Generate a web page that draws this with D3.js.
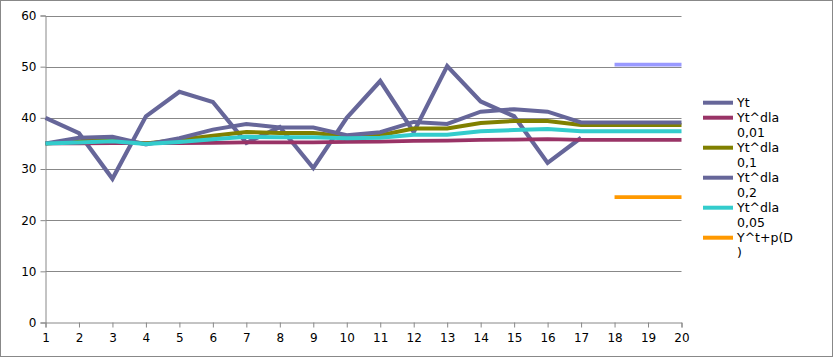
<!DOCTYPE html>
<html><head><meta charset="utf-8">
<script src="https://cdn.jsdelivr.net/npm/d3@7"></script>
<style>body{margin:0;background:#fff}svg{display:block;font-family:"DejaVu Sans",sans-serif}</style>
</head><body><svg id="c" width="833" height="357"></svg>
<script>
const periods = [1,2,3,4,5,6,7,8,9,10,11,12,13,14,15,16,17,18,19,20];
const yTicks = [0,10,20,30,40,50,60];
const yt      = [40,37,28.1,40.3,45.1,43.1,35.1,38.2,30.2,40,47.2,37.2,50.1,43.2,40.3,31.2,36.1,null,null,null];
const ytA001  = [35,35,35.05,35.05,35.05,35.1,35.2,35.2,35.2,35.3,35.35,35.5,35.55,35.7,35.75,35.85,35.7,35.7,35.7,35.7];
const ytA01   = [35,35.4,35.6,35,35.7,36.5,37.25,37.05,37.05,36.4,36.6,37.9,37.9,39,39.4,39.4,38.6,38.6,38.6,38.6];
const ytA02   = [35,36.1,36.3,34.8,36,37.7,38.8,38.1,38.1,36.6,37.2,39.2,38.8,41.2,41.7,41.2,39.1,39.1,39.1,39.1];
const ytA005  = [35,35.2,35.4,34.9,35.3,35.8,36.3,36.2,36.2,36,36.1,36.7,36.7,37.4,37.6,37.8,37.4,37.4,37.4,37.4];
const forecast= [null,null,null,null,null,null,null,null,null,null,null,null,null,null,null,null,null,24.5,24.5,24.5];
const upper   = [null,null,null,null,null,null,null,null,null,null,null,null,null,null,null,null,null,50.4,50.4,50.4];

const series = [
  {name:["Yt"], values:yt, color:"#666699", w:4.2, legend:true},
  {name:["Yt^dla","0,01"], values:ytA001, color:"#993366", w:3.8, legend:true},
  {name:["Yt^dla","0,1"], values:ytA01, color:"#808000", w:4, legend:true},
  {name:["Yt^dla","0,2"], values:ytA02, color:"#666699", w:4, legend:true},
  {name:["Yt^dla","0,05"], values:ytA005, color:"#33cccc", w:4, legend:true},
  {name:["Y^t+p(D",")"], values:forecast, color:"#ff9900", w:3.6, legend:true},
  {name:[""], values:upper, color:"#9999ff", w:3.6, legend:false}
];

const svg = d3.select("#c");
svg.append("rect").attr("x",0.5).attr("y",0.5).attr("width",832).attr("height",356)
  .attr("fill","#fff").attr("stroke","#888").attr("stroke-width",1);

const x = d3.scaleLinear().domain([1,20]).range([45.5,681.5]);
const y = d3.scaleLinear().domain([0,60]).range([322.5,15.5]);

// gridlines
svg.append("g").selectAll("line").data(yTicks.filter(d=>d>0)).join("line")
  .attr("x1",x(1)).attr("x2",x(20)).attr("y1",d=>Math.round(y(d))+0.5).attr("y2",d=>Math.round(y(d))+0.5)
  .attr("stroke","#888").attr("stroke-width",1);

const yAxis = d3.axisLeft(y).tickValues(yTicks).tickSize(5).tickPadding(4).tickFormat(d3.format("d"));
const gy = svg.append("g").attr("transform",`translate(${x(1)},0)`).call(yAxis);
const xAxis = d3.axisBottom(x).tickValues(periods).tickSize(5).tickPadding(6).tickFormat(d3.format("d"));
const gx = svg.append("g").attr("transform",`translate(0,${y(0)})`).call(xAxis);
[gy,gx].forEach(g=>{
  g.select(".domain").attr("stroke","#888");
  g.selectAll(".tick line").attr("stroke","#888");
  g.selectAll(".tick text").attr("fill","#000").attr("font-size","12px").attr("font-family","DejaVu Sans");
});

const line = d3.line().defined(d=>d[1]!=null).x(d=>x(d[0])).y(d=>y(d[1]));
series.forEach(s=>{
  svg.append("path").datum(periods.map((p,i)=>[p,s.values[i]]))
    .attr("d",line).attr("fill","none").attr("stroke",s.color)
    .attr("stroke-width",s.w).attr("stroke-linejoin","miter");
});

// legend
const lg = svg.append("g");
let ly = 102.7;
series.filter(s=>s.legend).forEach(s=>{
  lg.append("line").attr("x1",703).attr("x2",733).attr("y1",ly).attr("y2",ly)
    .attr("stroke",s.color).attr("stroke-width",4);
  s.name.forEach((t,k)=>{
    lg.append("text").attr("x",737).attr("y",ly+k*15).attr("dy","0.36em")
      .attr("font-size","12.5px").attr("fill","#000").text(t);
  });
  ly += 15*s.name.length;
});
</script></body></html>
